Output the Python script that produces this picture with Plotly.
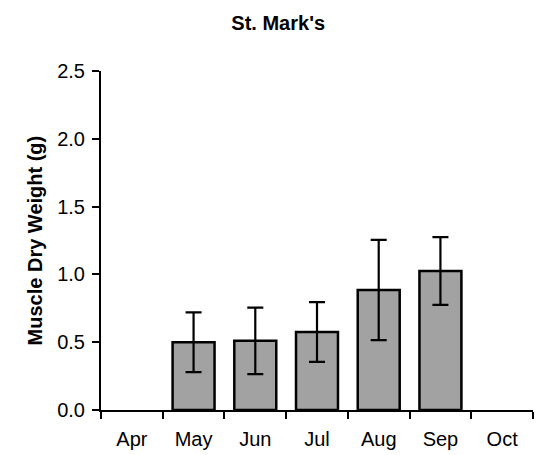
import plotly.graph_objects as go

# Monthly muscle dry weight, St. Mark's
months = ["Apr", "May", "Jun", "Jul", "Aug", "Sep", "Oct"]
mean_weight = [None, 0.50, 0.51, 0.575, 0.885, 1.025, None]
err_weight = [None, 0.22, 0.245, 0.22, 0.37, 0.25, None]
y_ticks = [0.0, 0.5, 1.0, 1.5, 2.0, 2.5]
y_tick_text = ["0.0", "0.5", "1.0", "1.5", "2.0", "2.5"]

FONT = "Liberation Sans, Arial, sans-serif"

fig = go.Figure()
fig.add_trace(go.Bar(
    x=months,
    y=mean_weight,
    marker=dict(color="#a2a2a2", line=dict(color="black", width=2.5)),
    error_y=dict(type="data", array=err_weight, visible=True,
                 color="black", thickness=2.2, width=8),
    showlegend=False,
))

fig.update_layout(
    width=536, height=455,
    margin=dict(l=101, r=3, t=71, b=45),
    paper_bgcolor="white", plot_bgcolor="white",
    bargap=0.32,
    font=dict(family=FONT, size=20, color="black"),
    title=dict(text="St. Mark's", x=0.519, xref="container", xanchor="center",
               y=0.949, yref="container", yanchor="middle",
               font=dict(family=FONT, size=20, color="black", weight="bold")),
    xaxis=dict(
        type="category", categoryorder="array", categoryarray=months,
        range=[-0.5, 6.5],
        showline=True, linecolor="black", linewidth=2,
        ticks="outside", tickson="boundaries", ticklen=7, tickwidth=2,
        tickcolor="black", showgrid=False, zeroline=False,
        ticklabelstandoff=10,
        tickfont=dict(family=FONT, size=20, color="black"),
    ),
    yaxis=dict(
        range=[0, 2.5], tickvals=y_ticks, ticktext=y_tick_text,
        showline=True, linecolor="black", linewidth=2,
        ticks="outside", ticklen=7, tickwidth=2, tickcolor="black",
        showgrid=False, zeroline=False,
        ticklabelstandoff=3,
        tickfont=dict(family=FONT, size=20, color="black"),
    ),
    annotations=[dict(
        text="Muscle Dry Weight (g)", textangle=-90,
        xref="paper", yref="paper", x=-0.153, y=0.5,
        xanchor="center", yanchor="middle", showarrow=False,
        font=dict(family=FONT, size=20, color="black", weight="bold"),
    )],
)

fig.write_html("out.html")
